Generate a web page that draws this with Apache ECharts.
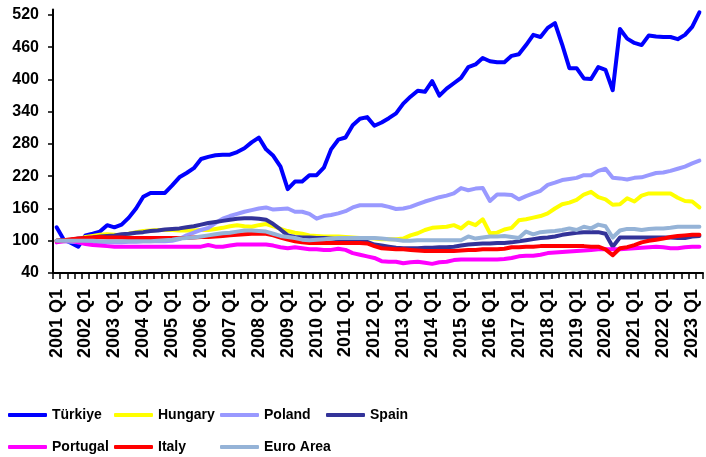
<!DOCTYPE html>
<html>
<head>
<meta charset="utf-8">
<script src="https://cdn.jsdelivr.net/npm/echarts@6/dist/echarts.min.js"></script>
<style>
html, body { margin: 0; padding: 0; background: #fff; }
#chart { width: 706px; height: 457px; }
</style>
</head>
<body>
<div id="chart"></div>
<script>
var years = [];
for (var y = 2001; y <= 2023; y++) years.push(y);
var quarters = [];
years.forEach(function (y) {
    for (var q = 1; q <= 4; q++) quarters.push(y + " Q" + q);
});
quarters = quarters.slice(0, 90); // 2001 Q1 .. 2023 Q2

var yTicks = [40, 100, 160, 220, 280, 340, 400, 460, 520];

var turkiye = [125, 102, 96, 89, 110, 113, 117, 129, 125, 130,
    143, 160, 182, 189, 189, 189, 203, 218, 226, 235,
    252, 256, 259, 260, 260, 265, 272, 283, 292, 270,
    258, 238, 196, 210, 210, 222, 222, 236, 270, 288,
    292, 315, 327, 330, 314, 320, 328, 337, 355, 368,
    379, 377, 397, 370, 383, 393, 403, 423, 428, 440,
    434, 432, 432, 444, 447, 464, 483, 479, 496, 505,
    465, 421, 421, 402, 401, 423, 418, 380, 494, 476,
    468, 464, 482, 480, 479, 479, 475, 483, 498, 525];

var hungary = [100, 100, 101, 102, 107, 109, 111, 112, 111, 110,
    113, 116, 118, 119, 120, 120, 120, 119, 119, 119,
    120, 120, 122, 124, 127, 129, 127, 126, 129, 131,
    127, 122, 118, 115, 113, 110, 109, 108, 108, 108,
    107, 106, 105, 105, 104, 103, 103, 103, 104, 110,
    114, 120, 124, 125, 126, 129, 123, 134, 129, 140,
    114, 115, 121, 124, 138, 140, 143, 146, 151, 160,
    168, 171, 176, 186, 191, 181, 177, 167, 168, 179,
    173, 184, 188, 188, 188, 188, 180, 174, 173, 162];

var poland = [100, 99, 98, 97, 97, 96, 96, 97, 97, 97,
    98, 98, 99, 99, 99, 99, 100, 103, 110, 115,
    120, 124, 133, 141, 146, 150, 154, 157, 160, 162,
    158, 159, 160, 154, 154, 150, 141, 146, 148, 151,
    155, 162, 166, 166, 166, 166, 163, 159, 160, 163,
    168, 173, 177, 181, 184, 188, 198, 194, 197, 198,
    174, 186, 186, 185, 177, 183, 188, 193, 204, 208,
    213, 215, 217, 222, 222, 230, 234, 217, 216, 214,
    217, 218, 222, 226, 227, 230, 234, 238, 244, 249];

var spain = [100, 101, 102, 104, 105, 106, 108, 109, 110, 112,
    113, 115, 116, 118, 119, 121, 122, 123, 125, 127,
    130, 133, 135, 137, 139, 141, 142, 142, 141, 139,
    131, 121, 110, 107, 106, 106, 105, 105, 104, 103,
    103, 103, 102, 98, 93, 91, 89, 87, 86, 86,
    86, 87, 87, 88, 88, 89, 91, 93, 94, 95,
    95, 96, 96, 97, 99, 101, 103, 105, 106, 108,
    111, 113, 115, 116, 116, 116, 113, 89, 106, 106,
    106, 106, 106, 106, 106, 106, 105, 105, 108, 109];

var portugal = [97, 99, 100, 97, 94, 92, 91, 90, 89, 89,
    89, 89, 89, 89, 89, 89, 89, 89, 89, 89,
    89, 92, 89, 89, 91, 93, 93, 93, 93, 93,
    91, 88, 86, 88, 86, 84, 84, 83, 83, 85,
    83, 77, 74, 71, 68, 62, 61, 61, 58, 60,
    61, 59, 57, 60, 61, 64, 65, 65, 65, 65,
    65, 65, 66, 68, 71, 72, 72, 74, 77, 78,
    79, 80, 81, 82, 83, 84, 84, 84, 84, 85,
    86, 87, 88, 89, 88, 86, 86, 88, 89, 89];

var italy = [100, 101, 103, 104, 105, 106, 107, 106, 106, 106,
    105, 105, 105, 105, 105, 105, 105, 105, 105, 106,
    107, 107, 108, 109, 110, 111, 112, 113, 113, 113,
    110, 106, 102, 99, 97, 96, 96, 96, 96, 96,
    96, 96, 96, 95, 90, 86, 85, 84, 84, 83,
    82, 81, 81, 81, 81, 81, 82, 83, 83, 84,
    84, 84, 85, 88, 88, 89, 89, 90, 90, 90,
    90, 90, 90, 90, 89, 89, 84, 73, 86, 88,
    92, 97, 100, 102, 104, 107, 109, 110, 111, 111];

var euroArea = [100, 100, 100, 100, 100, 100, 99, 99, 99, 99,
    99, 99, 99, 99, 100, 101, 102, 104, 105, 106,
    108, 110, 112, 114, 115, 117, 119, 119, 118, 117,
    113, 109, 107, 105, 102, 101, 102, 103, 104, 105,
    105, 105, 105, 105, 105, 104, 103, 102, 100, 100,
    101, 101, 101, 101, 101, 101, 101, 108, 104, 106,
    108, 108, 109, 107, 105, 117, 112, 116, 117, 118,
    120, 123, 120, 126, 123, 130, 127, 106, 119, 122,
    122, 120, 122, 123, 123, 124, 126, 126, 126, 126];

var names = ["Türkiye", "Hungary", "Poland", "Spain", "Portugal", "Italy", "Euro Area"];
var colors = ["#0000FF", "#FFFF00", "#9999FF", "#333399", "#FF00FF", "#FF0000", "#95B3D7"];
var values = [turkiye, hungary, poland, spain, portugal, italy, euroArea];

function mkSeries(i) {
    return {
        name: names[i],
        type: "line",
        data: values[i],
        symbol: "none",
        clip: false,
        itemStyle: { color: colors[i] },
        lineStyle: { color: colors[i], width: 4, cap: "round", join: "round" }
    };
}

// legend columns sit 106px apart in the reference
function mkLegend(list, top) {
    return {
        data: list,
        left: 8,
        top: top,
        orient: "horizontal",
        icon: "roundRect",
        itemWidth: 39,
        itemHeight: 4,
        itemGap: 4,
        padding: 0,
        textStyle: {
            fontFamily: "'Liberation Sans', Arial, sans-serif",
            fontWeight: "bold",
            fontSize: 14,
            color: "#000",
            width: 58,
            overflow: "none",
            lineHeight: 18
        }
    };
}

var axisFont = "'Liberation Sans', Arial, sans-serif";

var option = {
    animation: false,
    color: colors,
    grid: { left: 53, right: 3, top: 9.6, bottom: 184 },
    legend: [mkLegend(names.slice(0, 4), 406), mkLegend(names.slice(4), 438)],
    xAxis: {
        type: "category",
        data: quarters,
        boundaryGap: true,
        axisLine: { lineStyle: { color: "#000", width: 2 } },
        axisTick: { show: true, interval: 0, length: 6, lineStyle: { color: "#000", width: 1.5 } },
        axisLabel: {
            interval: 3,
            rotate: 90,
            margin: 16,
            color: "#000",
            fontSize: 18,
            fontWeight: "bold",
            fontFamily: axisFont
        },
        splitLine: { show: false }
    },
    yAxis: {
        type: "value",
        min: 40,
        max: 530,
        axisLine: { show: true, lineStyle: { color: "#000", width: 2 } },
        axisTick: { show: true, length: 5, customValues: yTicks, lineStyle: { color: "#000", width: 1.5 } },
        axisLabel: {
            customValues: yTicks,
            margin: 14,
            color: "#000",
            fontSize: 16,
            fontWeight: "bold",
            fontFamily: axisFont
        },
        splitLine: { show: false }
    },
    series: names.map(function (n, i) { return mkSeries(i); })
};

var chart = echarts.init(document.getElementById("chart"), null, { renderer: "canvas" });
chart.setOption(option);
</script>
</body>
</html>
